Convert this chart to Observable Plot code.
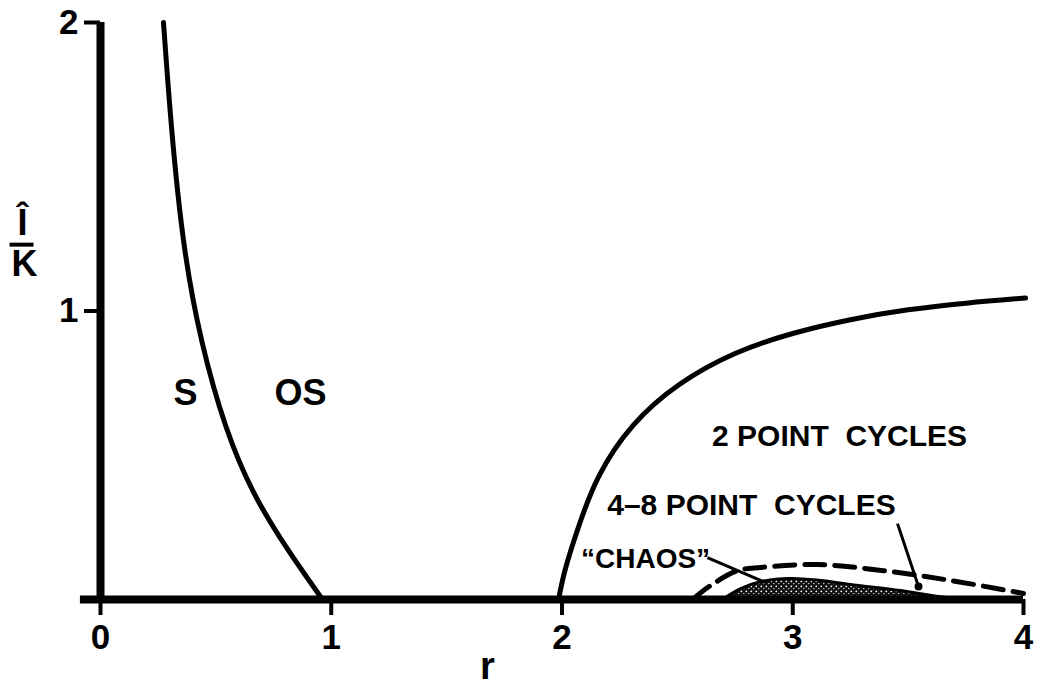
<!DOCTYPE html>
<html><head><meta charset="utf-8">
<script src="https://cdn.jsdelivr.net/npm/d3@7"></script>
<script src="https://cdn.jsdelivr.net/npm/@observablehq/plot@0.6"></script>
<style>body{margin:0;background:#fff;} svg{display:block;}</style>
</head><body><div id="chart"></div>
<script>
// Boundary between S and OS regions (listed from the r axis upward)
const osR = [0.962, 0.797, 0.659, 0.542, 0.433, 0.360, 0.308, 0.273];
const osI = [0.000, 0.187, 0.367, 0.585, 0.896, 1.208, 1.612, 2.000];
// Onset of 2 point cycles
const twoR = [1.985, 2.005, 2.030, 2.070, 2.150, 2.300, 2.500, 2.750, 3.000, 3.250, 3.500, 3.750, 4.009];
const twoI = [0.000, 0.080, 0.150, 0.250, 0.430, 0.610, 0.750, 0.860, 0.925, 0.972, 1.006, 1.028, 1.045];
// Onset of 4-8 point cycles (dashed)
const fourR = [2.570, 2.643, 2.761, 2.860, 3.107, 3.393, 3.684, 4.000];
const fourI = [0.003, 0.048, 0.100, 0.111, 0.121, 0.100, 0.066, 0.021];
// "Chaos" region upper boundary
const chaosR = [2.700, 2.774, 2.860, 2.990, 3.120, 3.250, 3.467, 3.640, 3.790];
const chaosI = [0.003, 0.038, 0.062, 0.073, 0.066, 0.052, 0.031, 0.010, 0.000];

const xTicks = [0, 1, 2, 3, 4];
const yTicks = [1, 2];
const xAxisExtent = [-0.087, 4];

// Annotations
const labelText = ["S", "OS", "2 POINT  CYCLES", "4–8 POINT  CYCLES", "“CHAOS”", "r"];
const labelR    = [0.368, 0.867, 3.203, 2.821, 2.362, 1.677];
const labelI    = [0.713, 0.713, 0.567, 0.325, 0.142, -0.235];
const labelSize = [36, 36, 30, 30, 28, 38];
// Leader lines
const leadR1 = [2.630, 3.454];
const leadI1 = [0.145, 0.263];
const leadR2 = [2.882, 3.545];
const leadI2 = [0.059, 0.045];
// Y axis label pieces
const yLabR = [-0.338, -0.329];
const yLabI = [1.305, 1.163];
const yLabText = ["Î", "K"];
const yBarR = [-0.392, -0.288];
const yBarI = 1.230;

const zip = (xs, ys) => xs.map((x, i) => ({r: x, i: ys[i]}));
const os = zip(osR, osI), two = zip(twoR, twoI), four = zip(fourR, fourI), chaos = zip(chaosR, chaosI);
const labels = labelText.map((t, k) => ({t, r: labelR[k], i: labelI[k], s: labelSize[k]}));
const leads = leadR1.map((r, k) => ({r1: r, i1: leadI1[k], r2: leadR2[k], i2: leadI2[k]}));
const yLab = yLabText.map((t, k) => ({t, r: yLabR[k], i: yLabI[k]}));

const font = "'Liberation Sans', Arial, sans-serif";

const chart = Plot.plot({
  width: 1037, height: 688,
  marginLeft: 100, marginRight: 14, marginTop: 22, marginBottom: 89,
  x: {domain: [0, 4]},
  y: {domain: [0, 2]},
  style: {fontFamily: font, background: "#fff", color: "#000"},
  marks: [
    Plot.areaY(chaos, {x: "r", y: "i", fill: "url(#stipple)", curve: "catmull-rom"}),
    Plot.line(chaos, {x: "r", y: "i", stroke: "#000", strokeWidth: 3, curve: "catmull-rom"}),
    Plot.line(os, {x: "r", y: "i", stroke: "#000", strokeWidth: 5, strokeLinecap: "round", curve: "basis"}),
    Plot.line(two, {x: "r", y: "i", stroke: "#000", strokeWidth: 5, strokeLinecap: "round", curve: "basis"}),
    Plot.line(four, {x: "r", y: "i", stroke: "#000", strokeWidth: 5, strokeDasharray: "20,10", curve: "catmull-rom"}),
    Plot.ruleY([0], {x1: xAxisExtent[0], x2: xAxisExtent[1], stroke: "#000", strokeWidth: 8}),
    Plot.ruleX([0], {y1: 0, y2: 2, stroke: "#000", strokeWidth: 8}),
    Plot.axisX({ticks: xTicks, tickFormat: "d", tickSize: 16, tickPadding: 9, strokeWidth: 4, fontSize: 35, fontWeight: "bold", fontFamily: font, label: null}),
    Plot.axisY({ticks: yTicks, tickFormat: "d", tickSize: 16, tickPadding: 6, strokeWidth: 4, fontSize: 35, fontWeight: "bold", fontFamily: font, label: null}),
    Plot.link(leads, {x1: "r1", y1: "i1", x2: "r2", y2: "i2", stroke: "#000", strokeWidth: 3}),
    Plot.dot([leads[1]], {x: "r2", y: "i2", r: 4, fill: "#000"}),
    Plot.text(labels, {x: "r", y: "i", text: "t", fontSize: "s", fontWeight: "bold", fontFamily: font, fill: "#000"}),
    Plot.text(yLab, {x: "r", y: "i", text: "t", fontSize: 36, fontWeight: "bold", fontFamily: font, fill: "#000"}),
    Plot.ruleY([yBarI], {x1: yBarR[0], x2: yBarR[1], stroke: "#000", strokeWidth: 4})
  ]
});

// stipple pattern for the "chaos" region
const defs = d3.select(chart).insert("defs", ":first-child");
const pat = defs.append("pattern").attr("id", "stipple").attr("width", 5).attr("height", 5).attr("patternUnits", "userSpaceOnUse");
pat.append("rect").attr("width", 5).attr("height", 5).attr("fill", "#111");
pat.append("circle").attr("cx", 1.3).attr("cy", 1.3).attr("r", 0.9).attr("fill", "#fff");
pat.append("circle").attr("cx", 3.8).attr("cy", 3.6).attr("r", 0.7).attr("fill", "#fff");

document.getElementById("chart").appendChild(chart);
</script>
</body></html>
